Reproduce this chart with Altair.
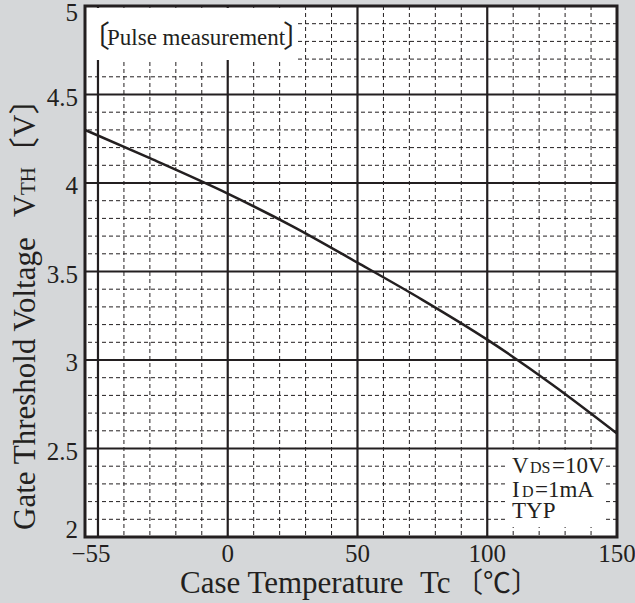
import altair as alt
import pandas as pd

# ---- data ----
temps = [-55, -30, 0, 25, 50, 75, 100, 125, 150]
vth = [4.30, 4.14, 3.94, 3.755, 3.55, 3.34, 3.115, 2.862, 2.585]

x_ticks = [-55, 0, 50, 100, 150]
y_ticks = [2, 2.5, 3, 3.5, 4, 4.5, 5]
x_major = [-50, 0, 50, 100]
y_major = [2.5, 3, 3.5, 4, 4.5]
x_minor = [-40, -30, -20, -10, 10, 20, 30, 40, 60, 70, 80, 90, 110, 120, 130, 140]
y_minor = [2.1, 2.2, 2.3, 2.4, 2.6, 2.7, 2.8, 2.9, 3.1, 3.2, 3.3, 3.4,
           3.6, 3.7, 3.8, 3.9, 4.1, 4.2, 4.3, 4.4, 4.6, 4.7, 4.8, 4.9]

INK = "#231f20"
SERIF = "Liberation Serif"
MIXED = "'Liberation Serif', 'Noto Sans CJK JP'"
CJK = "Noto Sans CJK JP"
BG = "#d5d7d9"

xs = alt.Scale(domain=[-55, 150], nice=False, zero=False)
ys = alt.Scale(domain=[2, 5], nice=False, zero=False)

one = pd.DataFrame({"k": [0]})


def txt(s, x, y, size, align="left", angle=0, font=SERIF, baseline="alphabetic"):
    kw = dict(align=align, baseline=baseline, font=font, fontSize=size, color=INK)
    if angle:
        kw["angle"] = angle
    return alt.Chart(pd.DataFrame({"s": [s]})).mark_text(**kw).encode(
        x=alt.value(x), y=alt.value(y), text="s:N"
    )


minor_v = alt.Chart(pd.DataFrame({"x": x_minor})).mark_rule(
    color=INK, strokeWidth=1, strokeDash=[4, 3]
).encode(x=alt.X("x:Q", scale=xs, axis=None))
minor_h = alt.Chart(pd.DataFrame({"y": y_minor})).mark_rule(
    color=INK, strokeWidth=1, strokeDash=[4, 3]
).encode(y=alt.Y("y:Q", scale=ys, axis=None))
major_v = alt.Chart(pd.DataFrame({"x": x_major})).mark_rule(
    color=INK, strokeWidth=2.2
).encode(x=alt.X("x:Q", scale=xs, axis=None))
major_h = alt.Chart(pd.DataFrame({"y": y_major})).mark_rule(
    color=INK, strokeWidth=2.2
).encode(y=alt.Y("y:Q", scale=ys, axis=None))

box1 = alt.Chart(one).mark_rect(color="white").encode(
    x=alt.value(2), x2=alt.value(213), y=alt.value(2), y2=alt.value(54)
)
box2 = alt.Chart(one).mark_rect(color="white").encode(
    x=alt.value(420), x2=alt.value(520), y=alt.value(444), y2=alt.value(521)
)

curve = alt.Chart(pd.DataFrame({"t": temps, "v": vth})).mark_line(
    color=INK, strokeWidth=2.5, interpolate="monotone"
).encode(
    x=alt.X("t:Q", scale=xs, axis=None),
    y=alt.Y("v:Q", scale=ys, axis=None),
)

# tick labels drawn through the scales
xlab_df = pd.DataFrame({"x": x_ticks})
xlab_base = alt.Chart(xlab_df).transform_calculate(
    lab="datum.x < 0 ? '\u2212' + abs(datum.x) : '' + datum.x"
)
xlab_first = xlab_base.transform_filter("datum.x === -55").mark_text(
    align="center", baseline="top", font=SERIF, fontSize=25, color=INK, dx=6
).encode(x=alt.X("x:Q", scale=xs, axis=None), y=alt.value(536), text="lab:N")
xlab_rest = xlab_base.transform_filter("datum.x !== -55").mark_text(
    align="center", baseline="top", font=SERIF, fontSize=25, color=INK
).encode(x=alt.X("x:Q", scale=xs, axis=None), y=alt.value(536), text="lab:N")

ylab_df = pd.DataFrame({"y": y_ticks})
ylab_base = alt.Chart(ylab_df).transform_calculate(lab="'' + datum.y")


def ylab(filt, dy):
    return ylab_base.transform_filter(filt).mark_text(
        align="right", baseline="middle", font=SERIF, fontSize=25, color=INK, dy=dy
    ).encode(x=alt.value(-7), y=alt.Y("y:Q", scale=ys, axis=None), text="lab:N")


ylab_top = ylab("datum.y === 5", 7)
ylab_bot = ylab("datum.y === 2", -7)
ylab_mid = ylab("datum.y !== 5 && datum.y !== 2", 3)

texts = [
    # pulse box
    txt("\u3014", 25, 41, 30, align="right", font=CJK),
    txt("Pulse measurement", 22, 39, 23),
    txt("\u3015", 198, 41, 30, font=CJK),
    # conditions
    txt("V", 427, 467, 23),
    txt("DS", 445, 467, 16),
    txt("=10V", 467, 467, 23),
    txt("I", 427, 491, 23),
    txt("D", 437, 491, 16),
    txt("=1mA", 450, 491, 23),
    txt("TYP", 427, 512, 23),
    # x title
    txt("Case Temperature", 95, 587, 31),
    txt("Tc", 335, 587, 31),
    txt("\u3014\u2103\u3015", 370, 587, 28, font=CJK),
    # y title (rotated)
    txt("Gate Threshold Voltage", -50, 524, 31, angle=270),
    txt("V", -50, 211, 31, angle=270),
    txt("TH", -50, 189, 21, angle=270),
    txt("\u3014V\u3015", -50, 162, 31, angle=270, font=MIXED),
]

chart = alt.layer(
    minor_v, minor_h, major_v, major_h, box1, box2, curve,
    xlab_first, xlab_rest, ylab_top, ylab_bot, ylab_mid, *texts
).properties(
    width=532, height=531,
    padding={"left": 85, "top": 6, "right": 18, "bottom": 66},
    autosize="none",
    background=BG,
).configure_view(stroke=INK, strokeWidth=3, fill="white")

chart.save("out.html", embed_options={"renderer": "svg", "actions": False})
